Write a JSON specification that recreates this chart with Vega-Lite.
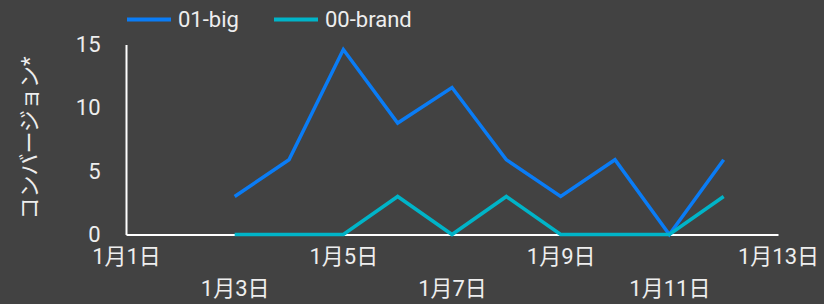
{
  "$schema": "https://vega.github.io/schema/vega-lite/v6.json",
  "autosize": "none",
  "width": 652,
  "height": 190,
  "padding": {"left": 126, "top": 44.5, "right": 46, "bottom": 69.5},
  "background": "#424242",
  "config": {
    "view": {"stroke": null},
    "font": "Roboto, Noto Sans CJK JP"
  },
  "data": {
    "values": [
      {"date": "2024-01-03", "series": "01-big", "value": 3},
      {"date": "2024-01-04", "series": "01-big", "value": 5.9},
      {"date": "2024-01-05", "series": "01-big", "value": 14.6},
      {"date": "2024-01-06", "series": "01-big", "value": 8.8},
      {"date": "2024-01-07", "series": "01-big", "value": 11.6},
      {"date": "2024-01-08", "series": "01-big", "value": 5.9},
      {"date": "2024-01-09", "series": "01-big", "value": 3},
      {"date": "2024-01-10", "series": "01-big", "value": 5.9},
      {"date": "2024-01-11", "series": "01-big", "value": 0},
      {"date": "2024-01-12", "series": "01-big", "value": 5.9},
      {"date": "2024-01-03", "series": "00-brand", "value": 0},
      {"date": "2024-01-04", "series": "00-brand", "value": 0},
      {"date": "2024-01-05", "series": "00-brand", "value": 0},
      {"date": "2024-01-06", "series": "00-brand", "value": 3},
      {"date": "2024-01-07", "series": "00-brand", "value": 0},
      {"date": "2024-01-08", "series": "00-brand", "value": 3},
      {"date": "2024-01-09", "series": "00-brand", "value": 0},
      {"date": "2024-01-10", "series": "00-brand", "value": 0},
      {"date": "2024-01-11", "series": "00-brand", "value": 0},
      {"date": "2024-01-12", "series": "00-brand", "value": 3}
    ]
  },
  "mark": {"type": "line", "strokeWidth": 3.5, "strokeJoin": "miter"},
  "encoding": {
    "x": {
      "field": "date",
      "type": "temporal",
      "scale": {"type": "utc", "domain": ["2024-01-01", "2024-01-13"]},
      "axis": {
        "title": null,
        "grid": false,
        "ticks": false,
        "tickSize": 0,
        "domainColor": "#ffffff",
        "domainWidth": 2,
        "values": ["2024-01-01", "2024-01-03", "2024-01-05", "2024-01-07", "2024-01-09", "2024-01-11", "2024-01-13"],
        "labelExpr": "utcFormat(datum.value, '%-m月%-d日')",
        "labelColor": "#eeeeee",
        "labelFontSize": 22,
        "labelFlush": false,
        "labelOverlap": false,
        "labelPadding": {"condition": {"test": "utcdate(datum.value) % 4 == 3", "value": 44}, "value": 12}
      }
    },
    "y": {
      "field": "value",
      "type": "quantitative",
      "scale": {"domain": [0, 15], "nice": false},
      "axis": {
        "title": "コンバージョン*",
        "titleColor": "#eeeeee",
        "titleFontSize": 22,
        "titleFontWeight": "normal",
        "titleX": -97,
        "titleY": 93,
        "titleAngle": -90,
        "titleAlign": "center",
        "titleBaseline": "middle",
        "grid": false,
        "ticks": false,
        "tickSize": 0,
        "domainColor": "#ffffff",
        "domainWidth": 2,
        "values": [0, 5, 10, 15],
        "labelColor": "#eeeeee",
        "labelFontSize": 22,
        "labelPadding": 26
      }
    },
    "color": {
      "field": "series",
      "type": "nominal",
      "sort": ["01-big", "00-brand"],
      "scale": {"domain": ["01-big", "00-brand"], "range": ["#0a7cf5", "#00b4c8"]},
      "legend": {
        "title": null,
        "orient": "none",
        "direction": "horizontal",
        "legendX": -1,
        "legendY": -49,
        "symbolType": "stroke",
        "symbolSize": 1936,
        "symbolStrokeWidth": 4,
        "labelColor": "#eeeeee",
        "labelFontSize": 22,
        "labelOffset": 5,
        "columnPadding": 27,
        "padding": 0
      }
    }
  }
}
